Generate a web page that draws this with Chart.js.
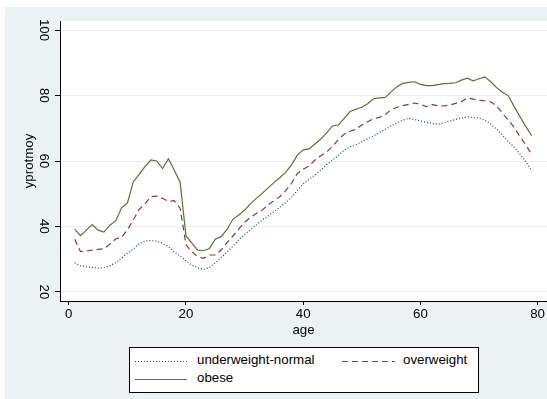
<!DOCTYPE html>
<html>
<head>
<meta charset="utf-8">
<script src="https://cdn.jsdelivr.net/npm/chart.js@4.4.1/dist/chart.umd.min.js"></script>
<style>
  body { margin: 0; background: #fff; }
  #wrap { position: relative; width: 547px; height: 399px; overflow: hidden; font-family: "Liberation Sans", Arial, sans-serif; }
  #chart { position: absolute; left: 0; top: 0; }
  #legend { position: absolute; left: 129px; top: 347px; width: 350px; height: 46px; box-sizing: border-box; border: 1px solid #000; background: #fff; }
  #legend svg { position: absolute; }
  #legend span { position: absolute; font-size: 13.3px; line-height: 16px; color: #000; white-space: nowrap; }
</style>
</head>
<body>
<div id="wrap">
  <canvas id="chart" width="547" height="399"></canvas>
  <div id="legend">
    <svg width="52" height="6" style="left:5px;top:11px"><line x1="0" y1="2.5" x2="52" y2="2.5" stroke="#1a476f" stroke-width="1" stroke-dasharray="1 2"/></svg>
    <span style="left:67px;top:4px">underweight-normal</span>
    <svg width="53" height="6" style="left:212px;top:11px"><line x1="0" y1="2.5" x2="53" y2="2.5" stroke="#90353b" stroke-width="1" stroke-dasharray="6 4"/></svg>
    <span style="left:273px;top:4px">overweight</span>
    <svg width="52" height="6" style="left:5px;top:29px"><line x1="0" y1="2.5" x2="52" y2="2.5" stroke="#55752f" stroke-width="1"/></svg>
    <span style="left:67px;top:22px">obese</span>
  </div>
</div>
<script>
//Datos
const ages = [1, 2, 3, 4, 5, 6, 7, 8, 9, 10, 11, 12, 13, 14, 15, 16, 17, 18, 19, 20,
  21, 22, 23, 24, 25, 26, 27, 28, 29, 30, 31, 32, 33, 34, 35, 36, 37, 38, 39, 40,
  41, 42, 43, 44, 45, 46, 47, 48, 49, 50, 51, 52, 53, 54, 55, 56, 57, 58, 59, 60,
  61, 62, 63, 64, 65, 66, 67, 68, 69, 70, 71, 72, 73, 74, 75, 76, 77, 78, 79];

const underweightNormal = [28.9, 28.0, 27.7, 27.5, 27.3, 27.4, 28.0, 28.9, 30.4, 31.8,
  33.1, 34.7, 35.6, 35.7, 35.5, 34.9, 33.8, 32.2, 31.0, 29.5,
  28.2, 27.4, 26.9, 27.5, 28.9, 30.5, 32.2, 34.0, 35.9, 37.6,
  39.1, 40.5, 42.0, 43.2, 44.5, 45.9, 47.3, 48.9, 51.0, 53.0,
  54.4, 55.7, 57.2, 58.9, 60.3, 61.7, 63.4, 64.4, 64.9, 65.9,
  66.8, 67.7, 68.6, 69.7, 70.7, 71.7, 72.5, 73.0, 72.7, 72.2,
  71.8, 71.5, 71.2, 71.7, 72.2, 72.7, 73.1, 73.5, 73.3, 73.1,
  72.5, 71.3, 69.7, 67.9, 65.9, 64.2, 62.1, 59.8, 56.9];

const overweight = [36.1, 32.3, 32.5, 32.8, 33.0, 33.2, 34.6, 36.2, 36.7, 38.9,
  42.0, 45.2, 46.9, 49.1, 49.3, 48.6, 47.7, 47.9, 45.6, 34.4,
  32.3, 30.8, 30.3, 31.3, 31.3, 32.8, 35.1, 37.1, 39.2, 41.3,
  42.8, 44.0, 45.0, 46.6, 47.9, 49.1, 50.9, 53.2, 56.2, 57.5,
  58.5, 60.3, 61.6, 62.8, 64.4, 66.6, 68.2, 69.1, 69.7, 71.0,
  72.0, 72.9, 73.3, 74.2, 75.6, 76.4, 76.9, 77.3, 77.7, 77.3,
  76.6, 77.2, 76.9, 76.8, 77.1, 77.6, 78.1, 79.3, 78.9, 78.5,
  78.4, 78.1, 76.8, 74.6, 72.5, 70.3, 67.4, 64.9, 62.0];

const obese = [39.2, 37.2, 38.9, 40.6, 38.9, 38.3, 40.4, 41.7, 45.7, 47.1,
  53.6, 55.9, 58.3, 60.3, 60.0, 57.7, 60.7, 57.2, 53.5, 37.1,
  34.9, 32.8, 32.6, 33.3, 36.1, 36.9, 39.1, 42.2, 43.5, 45.0,
  46.9, 48.6, 50.1, 51.8, 53.4, 54.9, 56.5, 58.8, 61.8, 63.4,
  63.7, 65.2, 66.7, 68.6, 70.7, 71.0, 73.0, 75.1, 75.8, 76.4,
  77.5, 79.0, 79.3, 79.4, 81.1, 82.7, 83.7, 84.0, 84.2, 83.4,
  83.0, 83.0, 83.3, 83.6, 83.7, 83.9, 84.7, 85.3, 84.5, 85.1,
  85.7, 84.2, 82.4, 81.0, 79.9, 76.6, 73.5, 70.5, 67.7];

const xTicks = [0, 20, 40, 60, 80];
const yTicks = [20, 40, 60, 80, 100];

const FONT = { family: "'Liberation Sans', Arial, sans-serif", size: 13.3 };

//Pasar a puntos x/y
function toPoints(values) {
  return ages.map((a, i) => ({ x: a, y: values[i] }));
}

//Fondo gris y zona del grafico en blanco
const bgPlugin = {
  id: "bg",
  beforeDraw(chart) {
    const ctx = chart.ctx;
    const a = chart.chartArea;
    ctx.save();
    ctx.fillStyle = "#fff";
    ctx.fillRect(0, 0, chart.width, chart.height);
    ctx.fillStyle = "#eaf2f3";
    ctx.fillRect(5, 7, chart.width - 5, chart.height - 7);
    ctx.fillStyle = "#fff";
    ctx.fillRect(a.left, a.top, a.right - a.left, a.bottom - a.top);
    ctx.restore();
  }
};

new Chart(document.getElementById("chart"), {
  type: "line",
  data: {
    datasets: [
      {
        label: "underweight-normal",
        data: toPoints(underweightNormal),
        borderColor: "#1a476f",
        borderWidth: 1.2,
        borderDash: [1, 2],
        pointRadius: 0,
        fill: false,
        tension: 0
      },
      {
        label: "overweight",
        data: toPoints(overweight),
        borderColor: "#90353b",
        borderWidth: 1.2,
        borderDash: [6, 4],
        pointRadius: 0,
        fill: false,
        tension: 0
      },
      {
        label: "obese",
        data: toPoints(obese),
        borderColor: "#55752f",
        borderWidth: 1.2,
        pointRadius: 0,
        fill: false,
        tension: 0
      }
    ]
  },
  options: {
    responsive: false,
    animation: false,
    events: [],
    layout: { padding: { left: 0, top: 21, right: 0, bottom: 61 } },
    plugins: {
      legend: { display: false },
      tooltip: { enabled: false }
    },
    scales: {
      x: {
        type: "linear",
        min: -1.5,
        max: 81.6,
        afterBuildTicks: s => { s.ticks = xTicks.map(v => ({ value: v })); },
        afterFit: s => { s.height = 37; },
        border: { color: "#000", width: 1 },
        grid: { drawOnChartArea: false, tickColor: "#000", tickLength: 4 },
        ticks: { color: "#000", font: FONT, padding: 1.5, maxRotation: 0 },
        title: { display: true, text: "age", color: "#000", font: FONT, padding: { top: 0, bottom: 0 } }
      },
      y: {
        type: "linear",
        min: 17.25,
        max: 102.75,
        afterBuildTicks: s => { s.ticks = yTicks.map(v => ({ value: v })); },
        afterFit: s => { s.width = 60; },
        border: { color: "#000", width: 1 },
        grid: { color: "#e6eef0", tickColor: "#000", tickLength: 5 },
        ticks: { color: "#000", font: FONT, padding: 0, minRotation: -90, maxRotation: -90, crossAlign: "center" },
        title: { display: true, text: "yprotmoy", color: "#000", font: FONT, padding: { top: 21, bottom: 0 } }
      }
    }
  },
  plugins: [bgPlugin]
});
</script>
</body>
</html>
